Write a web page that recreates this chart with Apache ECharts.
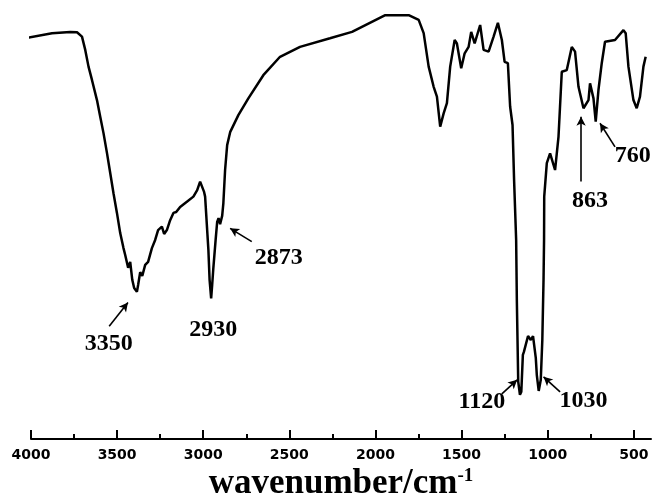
<!DOCTYPE html>
<html>
<head>
<meta charset="utf-8">
<script src="https://cdn.jsdelivr.net/npm/echarts@6/dist/echarts.min.js"></script>
<style>html,body{margin:0;padding:0;background:#fff}#c{width:652px;height:495px}</style>
</head>
<body>
<div id="c"></div>
<script>
// wavenumber (cm-1)
const wavenumbers = [4027,3878,3772,3733,3704,3685,3666,3646,3617,3598,3579,3559,3540,3521,3501,3482,3463,3453,3436,3424,3412,3401,3385,3378,3366,3354,3337,3320,3298,3279,3262,3240,3227,3211,3192,3173,3157,3134,3095,3057,3035,3018,3008,2995,2989,2976,2970,2963,2954,2948,2942,2928,2919,2911,2902,2890,2883,2873,2861,2843,2796,2738,2651,2554,2438,2264,2136,1943,1807,1749,1720,1691,1662,1643,1624,1604,1585,1566,1540,1527,1502,1482,1459,1444,1424,1392,1372,1343,1314,1289,1266,1250,1231,1218,1204,1195,1183,1179,1171,1161,1153,1144,1138,1114,1098,1085,1069,1063,1052,1040,1031,1024,1021,1020,1005,986,957,937,918,889,860,841,821,792,763,754,734,721,705,686,667,609,560,547,531,502,483,464,444,431];
// transmittance (arbitrary %)
const transmittance = [93.5,94.6,94.9,94.8,93.8,90.7,86.8,83.7,79.0,75.1,71.3,66.7,62.0,57.3,52.7,48.0,44.5,42.9,39.9,41.3,37.1,35.2,34.3,35.9,38.9,38.0,40.6,41.3,44.5,46.4,48.7,49.5,47.8,48.7,51.0,52.7,52.9,54.1,55.3,56.5,58.0,60.0,59.6,57.6,56.5,48.0,44.1,37.1,32.8,35.9,39.4,46.4,50.6,51.5,50.1,52.0,55.0,62.7,68.5,71.6,75.5,79.4,84.8,89.1,91.4,93.4,94.9,98.8,98.8,97.7,94.6,86.8,82.1,79.8,72.8,75.9,78.3,86.8,93.0,92.2,86.4,89.9,91.4,94.9,92.2,96.5,90.7,90.3,93.8,97.0,93.0,87.9,87.6,77.5,73.2,60.4,46.4,32.4,13.4,10.3,11.0,19.6,20.3,24.0,23.1,24.0,18.9,14.9,11.2,13.8,23.1,37.1,46.4,56.5,64.3,66.6,62.7,70.5,85.6,86.0,91.4,90.3,82.1,77.1,79.0,82.9,79.4,74.0,81.4,87.6,92.6,93.0,95.3,94.6,86.8,79.0,77.1,79.8,86.8,89.1];

const majorTicks = [4000,3500,3000,2500,2000,1500,1000,500];
const minorTicks = [3750,3250,2750,2250,1750,1250,750];

// peak annotations
const peakLabels = ['3350','2930','2873','1120','1030','863','760'];
const labelPos = [[3549,22.3],[2942,25.5],[2561,42.3],[1382,8.7],[792,8.9],[754,55.5],[506,66.0]];
const arrowFrom = [[3546,26.3],null,[2718,46.0],[1266,10.5],[928,11.0],[806,60.0],[609,68.1]];
const arrowTo   = [[3437,31.8],null,[2844,49.1],[1177,13.8],[1024,14.5],[806,75.1],[696,73.6]];

const seriesData = wavenumbers.map((w,i)=>[w, transmittance[i]]);
const arrows = [];
arrowFrom.forEach((a,i)=>{ if(a) arrows.push([{coord:a},{coord:arrowTo[i]}]); });
const labelPts = peakLabels.map((t,i)=>({name:t, coord:labelPos[i]}));

const chart = echarts.init(document.getElementById('c'), null, {renderer:'canvas'});
chart.setOption({
  animation:false,
  backgroundColor:'#fff',
  grid:{left:31,right:1,top:10,bottom:56,containLabel:false,outerBoundsMode:'none'},
  xAxis:[{
    type:'value', min:400, max:4000, inverse:true,
    axisLine:{show:true, lineStyle:{color:'#000', width:2}},
    axisTick:{show:true, inside:true, length:9, lineStyle:{color:'#000', width:2}, customValues:majorTicks},
    axisLabel:{show:true, margin:9, color:'#000', fontSize:14, fontWeight:'bold', fontFamily:'DejaVu Sans',
      customValues:majorTicks, formatter:(v)=>String(v)},
    splitLine:{show:false},
    name:'{a|wavenumber/cm}{s|-1}',
    nameLocation:'middle', nameGap:25,
    nameTextStyle:{rich:{
      a:{fontSize:35, fontFamily:'Liberation Serif', fontWeight:'bold', color:'#000', verticalAlign:'bottom'},
      s:{fontSize:19, fontFamily:'Liberation Serif', fontWeight:'bold', color:'#000', verticalAlign:'top'}
    }}
  },{
    type:'value', min:400, max:4000, inverse:true, position:'bottom', offset:0,
    axisLine:{show:false},
    axisTick:{show:true, inside:true, length:5, lineStyle:{color:'#000', width:2}, customValues:minorTicks},
    axisLabel:{show:false},
    splitLine:{show:false}
  }],
  yAxis:{type:'value', min:0, max:100, show:false},
  series:[{
    type:'line', xAxisIndex:0, data:seriesData, showSymbol:false, clip:false,
    lineStyle:{color:'#000', width:2.5}, itemStyle:{color:'#000'},
    markLine:{
      silent:true, symbol:['none','arrow'], symbolSize:[7,9],
      lineStyle:{color:'#000', width:1.6, type:'solid'},
      label:{show:false},
      data:arrows
    },
    markPoint:{
      silent:true, symbol:'circle', symbolSize:0,
      label:{show:true, position:'inside', formatter:'{b}', color:'#000', fontSize:24, fontWeight:'bold', fontFamily:'Liberation Serif'},
      data:labelPts
    }
  }]
});
</script>
</body>
</html>
